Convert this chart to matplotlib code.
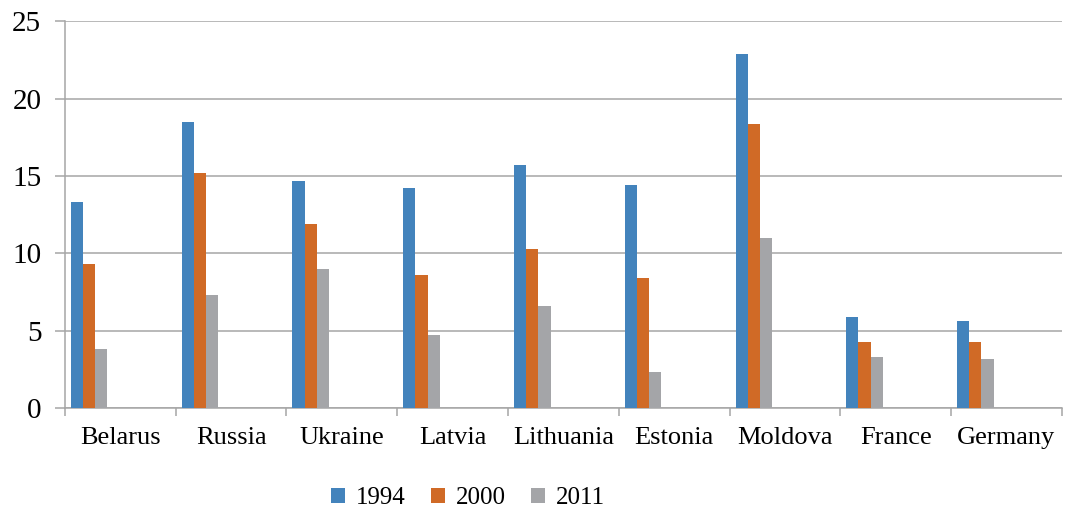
import numpy as np
import matplotlib
matplotlib.use("Agg")
import matplotlib.pyplot as plt

countries = ["Belarus", "Russia", "Ukraine", "Latvia", "Lithuania",
             "Estonia", "Moldova", "France", "Germany"]
years = ["1994", "2000", "2011"]
v1994 = [13.3, 18.5, 14.7, 14.2, 15.7, 14.4, 22.9, 5.9, 5.6]
v2000 = [9.3, 15.2, 11.9, 8.6, 10.3, 8.4, 18.4, 4.3, 4.3]
v2011 = [3.8, 7.3, 9.0, 4.7, 6.6, 2.3, 11.0, 3.3, 3.2]
colors = ["#4383BC", "#D06A26", "#A4A5A8"]

plt.rcParams["font.family"] = ["Liberation Serif", "DejaVu Serif"]

fig = plt.figure(figsize=(10.65, 5.11), dpi=100)
ax = fig.add_axes([0.061, 0.2016, 0.936, 0.7564])

x = np.arange(len(countries))
w = 0.11
# bars sit in the left part of each category slot
start = -0.5 + 0.054 + w / 2
handles = []
for k, (vals, c) in enumerate(zip([v1994, v2000, v2011], colors)):
    h = ax.bar(x + start + k * w, vals, w, color=c, label=years[k], zorder=3)
    handles.append(h)

ax.set_xlim(-0.5, len(countries) - 0.5)
ax.set_ylim(0, 25)
ax.set_yticks(np.arange(0, 26, 5))
ax.yaxis.grid(True, color="#A6A6A6", linewidth=1.1, zorder=0)

ax.set_xticks(x)
ax.set_xticklabels(countries, fontsize=19)
ax.set_xticks(np.arange(-0.5, len(countries)), minor=True)
ax.tick_params(axis="x", which="major", length=0, pad=14)
ax.tick_params(axis="x", which="minor", length=6, color="#A6A6A6", width=1.1)
ax.tick_params(axis="y", length=7, color="#A6A6A6", width=1.1, labelsize=21, pad=10)

for s in ["top", "right"]:
    ax.spines[s].set_visible(False)
for s in ["left", "bottom"]:
    ax.spines[s].set_color("#A6A6A6")
    ax.spines[s].set_linewidth(1.1)

fig.legend(handles=handles, loc="center", bbox_to_anchor=(468 / 1065, 1 - 498 / 511),
           ncol=3, frameon=False, fontsize=18, handlelength=0.56, handleheight=0.56,
           handletextpad=0.45, columnspacing=1.0)

fig.savefig("out.png", dpi=100)
